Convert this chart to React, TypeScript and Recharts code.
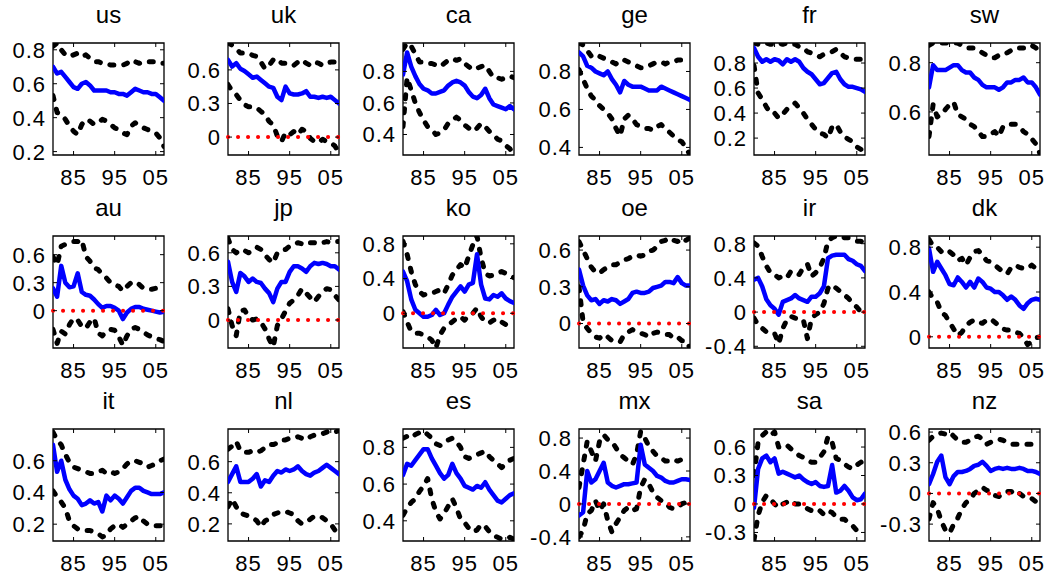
import React from 'react';
import { LineChart, Line, XAxis, YAxis, ReferenceLine, ReferenceArea } from 'recharts';

const YEARS = [1980, 1981, 1982, 1983, 1984, 1985, 1986, 1987, 1988, 1989, 1990, 1991, 1992, 1993, 1994, 1995, 1996, 1997, 1998, 1999, 2000, 2001, 2002, 2003, 2004, 2005, 2006, 2007];
const X_TICKS = [1985, 1995, 2005];

// row 1
const usMid = [0.70, 0.66, 0.67, 0.64, 0.61, 0.58, 0.57, 0.60, 0.61, 0.59, 0.56, 0.56, 0.56, 0.56, 0.55, 0.55, 0.54, 0.54, 0.53, 0.55, 0.57, 0.56, 0.55, 0.55, 0.54, 0.54, 0.52, 0.50];
const usHi = [0.82, 0.84, 0.80, 0.77, 0.76, 0.77, 0.78, 0.76, 0.77, 0.75, 0.73, 0.73, 0.72, 0.72, 0.71, 0.71, 0.71, 0.71, 0.72, 0.74, 0.73, 0.72, 0.73, 0.73, 0.73, 0.73, 0.72, 0.72];
const usLo = [0.53, 0.43, 0.42, 0.39, 0.35, 0.32, 0.30, 0.36, 0.39, 0.38, 0.36, 0.37, 0.39, 0.38, 0.36, 0.34, 0.33, 0.31, 0.30, 0.35, 0.37, 0.35, 0.34, 0.33, 0.32, 0.31, 0.28, 0.23];

const ukMid = [0.69, 0.63, 0.66, 0.61, 0.59, 0.56, 0.53, 0.54, 0.51, 0.48, 0.45, 0.44, 0.36, 0.33, 0.45, 0.39, 0.38, 0.38, 0.39, 0.41, 0.36, 0.36, 0.35, 0.36, 0.35, 0.36, 0.33, 0.30];
const ukHi = [0.84, 0.82, 0.79, 0.75, 0.75, 0.75, 0.73, 0.72, 0.67, 0.61, 0.64, 0.69, 0.70, 0.66, 0.66, 0.64, 0.64, 0.67, 0.69, 0.66, 0.64, 0.67, 0.66, 0.64, 0.66, 0.67, 0.67, 0.69];
const ukLo = [0.47, 0.41, 0.38, 0.33, 0.29, 0.27, 0.27, 0.26, 0.23, 0.20, 0.14, 0.11, 0.01, -0.04, 0.04, 0.02, 0.05, 0.02, 0.07, 0.05, -0.01, -0.04, -0.05, -0.02, -0.04, -0.05, -0.08, -0.14];

const caMid = [0.78, 0.92, 0.83, 0.77, 0.72, 0.69, 0.68, 0.66, 0.66, 0.67, 0.68, 0.71, 0.73, 0.74, 0.73, 0.71, 0.67, 0.64, 0.63, 0.65, 0.69, 0.63, 0.59, 0.58, 0.57, 0.56, 0.58, 0.56];
const caHi = [0.94, 0.98, 0.96, 0.91, 0.86, 0.86, 0.85, 0.85, 0.84, 0.83, 0.85, 0.87, 0.88, 0.87, 0.88, 0.85, 0.83, 0.81, 0.82, 0.83, 0.84, 0.80, 0.76, 0.76, 0.75, 0.76, 0.77, 0.76];
const caLo = [0.45, 0.76, 0.68, 0.60, 0.54, 0.49, 0.45, 0.43, 0.40, 0.41, 0.43, 0.47, 0.49, 0.51, 0.49, 0.46, 0.44, 0.42, 0.44, 0.47, 0.45, 0.42, 0.40, 0.37, 0.36, 0.33, 0.31, 0.27];

const geMid = [0.90, 0.88, 0.83, 0.82, 0.80, 0.79, 0.78, 0.80, 0.76, 0.73, 0.69, 0.75, 0.73, 0.72, 0.72, 0.72, 0.71, 0.70, 0.70, 0.70, 0.72, 0.71, 0.70, 0.69, 0.68, 0.67, 0.66, 0.65];
const geHi = [0.95, 0.94, 0.91, 0.88, 0.87, 0.88, 0.87, 0.86, 0.85, 0.84, 0.86, 0.86, 0.85, 0.84, 0.83, 0.82, 0.82, 0.83, 0.84, 0.85, 0.85, 0.84, 0.85, 0.85, 0.86, 0.86, 0.85, 0.85];
const geLo = [0.81, 0.76, 0.71, 0.67, 0.65, 0.62, 0.60, 0.58, 0.55, 0.50, 0.46, 0.55, 0.57, 0.55, 0.52, 0.51, 0.50, 0.50, 0.49, 0.51, 0.52, 0.50, 0.48, 0.46, 0.44, 0.43, 0.40, 0.36];

const frMid = [0.92, 0.85, 0.81, 0.83, 0.81, 0.83, 0.82, 0.79, 0.83, 0.81, 0.83, 0.81, 0.76, 0.73, 0.71, 0.67, 0.63, 0.64, 0.68, 0.72, 0.73, 0.67, 0.63, 0.61, 0.61, 0.60, 0.59, 0.57];
const frHi = [0.96, 0.95, 0.95, 0.96, 0.95, 0.95, 0.96, 0.95, 0.96, 0.95, 0.95, 0.93, 0.92, 0.89, 0.88, 0.87, 0.85, 0.87, 0.88, 0.89, 0.91, 0.88, 0.85, 0.84, 0.83, 0.83, 0.83, 0.83];
const frLo = [0.78, 0.56, 0.51, 0.45, 0.40, 0.40, 0.36, 0.39, 0.43, 0.45, 0.48, 0.44, 0.40, 0.35, 0.31, 0.27, 0.24, 0.23, 0.20, 0.29, 0.31, 0.25, 0.21, 0.19, 0.17, 0.13, 0.11, 0.07];

const swMid = [0.70, 0.79, 0.77, 0.77, 0.77, 0.78, 0.79, 0.79, 0.77, 0.76, 0.76, 0.74, 0.73, 0.71, 0.70, 0.70, 0.70, 0.69, 0.70, 0.72, 0.72, 0.73, 0.73, 0.74, 0.72, 0.72, 0.70, 0.67];
const swHi = [0.87, 0.88, 0.88, 0.88, 0.88, 0.88, 0.88, 0.88, 0.87, 0.86, 0.86, 0.86, 0.85, 0.84, 0.83, 0.82, 0.82, 0.83, 0.83, 0.84, 0.85, 0.85, 0.86, 0.86, 0.86, 0.87, 0.86, 0.84];
const swLo = [0.50, 0.63, 0.58, 0.59, 0.61, 0.63, 0.64, 0.59, 0.58, 0.57, 0.55, 0.54, 0.52, 0.50, 0.50, 0.51, 0.52, 0.50, 0.54, 0.55, 0.55, 0.55, 0.54, 0.52, 0.51, 0.49, 0.47, 0.43];

// row 2
const auMid = [0.24, 0.15, 0.48, 0.30, 0.25, 0.26, 0.40, 0.20, 0.17, 0.16, 0.12, 0.07, 0.03, 0.05, 0.05, 0.03, 0.00, -0.09, -0.02, 0.02, 0.04, 0.04, 0.02, 0.01, 0.00, -0.01, -0.02, -0.01];
const auHi = [0.58, 0.49, 0.69, 0.71, 0.72, 0.74, 0.74, 0.76, 0.58, 0.53, 0.46, 0.44, 0.39, 0.35, 0.30, 0.28, 0.26, 0.21, 0.26, 0.30, 0.31, 0.28, 0.24, 0.23, 0.23, 0.24, 0.24, 0.23];
const auLo = [-0.20, -0.35, -0.22, -0.25, -0.15, -0.08, -0.10, -0.17, -0.19, -0.12, -0.08, -0.24, -0.27, -0.22, -0.20, -0.21, -0.28, -0.37, -0.27, -0.20, -0.18, -0.20, -0.23, -0.26, -0.28, -0.30, -0.31, -0.33];

const jpMid = [0.52, 0.34, 0.25, 0.42, 0.39, 0.34, 0.37, 0.34, 0.33, 0.28, 0.24, 0.16, 0.28, 0.34, 0.34, 0.43, 0.48, 0.48, 0.46, 0.43, 0.48, 0.51, 0.50, 0.51, 0.50, 0.48, 0.48, 0.45];
const jpHi = [0.73, 0.63, 0.60, 0.63, 0.62, 0.60, 0.62, 0.65, 0.63, 0.58, 0.54, 0.51, 0.60, 0.62, 0.63, 0.66, 0.67, 0.69, 0.68, 0.67, 0.69, 0.69, 0.68, 0.69, 0.70, 0.69, 0.70, 0.70];
const jpLo = [0.10, -0.05, -0.14, 0.08, 0.09, 0.03, 0.00, 0.01, -0.02, -0.08, -0.17, -0.24, -0.05, 0.01, 0.08, 0.15, 0.18, 0.22, 0.28, 0.24, 0.20, 0.16, 0.21, 0.25, 0.28, 0.27, 0.22, 0.18];

const koMid = [0.48, 0.37, 0.16, 0.04, 0.00, -0.04, -0.04, -0.02, 0.04, -0.02, 0.00, 0.10, 0.19, 0.25, 0.31, 0.25, 0.33, 0.35, 0.68, 0.33, 0.17, 0.16, 0.21, 0.19, 0.23, 0.17, 0.14, 0.12];
const koHi = [0.83, 0.68, 0.48, 0.33, 0.25, 0.21, 0.23, 0.23, 0.25, 0.27, 0.23, 0.33, 0.44, 0.50, 0.56, 0.52, 0.66, 0.79, 0.89, 0.64, 0.46, 0.43, 0.44, 0.46, 0.48, 0.46, 0.43, 0.41];
const koLo = [0.02, -0.10, -0.21, -0.23, -0.23, -0.25, -0.27, -0.31, -0.40, -0.25, -0.17, -0.13, -0.10, -0.06, -0.04, -0.08, -0.02, 0.00, 0.06, -0.04, -0.10, -0.11, -0.08, -0.06, -0.10, -0.13, -0.13, -0.15];

const oeMid = [0.44, 0.31, 0.23, 0.19, 0.20, 0.16, 0.19, 0.18, 0.20, 0.19, 0.16, 0.18, 0.20, 0.25, 0.26, 0.25, 0.25, 0.26, 0.29, 0.30, 0.31, 0.34, 0.34, 0.33, 0.38, 0.33, 0.31, 0.31];
const oeHi = [0.67, 0.60, 0.53, 0.46, 0.42, 0.41, 0.44, 0.46, 0.48, 0.48, 0.50, 0.52, 0.53, 0.55, 0.56, 0.55, 0.56, 0.59, 0.60, 0.63, 0.67, 0.68, 0.70, 0.68, 0.67, 0.70, 0.68, 0.70];
const oeLo = [0.30, 0.01, -0.04, -0.08, -0.11, -0.12, -0.09, -0.11, -0.14, -0.15, -0.15, -0.09, -0.07, -0.05, -0.07, -0.08, -0.09, -0.11, -0.08, -0.07, -0.08, -0.09, -0.09, -0.12, -0.11, -0.14, -0.14, -0.20];

const irMid = [0.38, 0.40, 0.30, 0.15, 0.08, 0.04, -0.03, 0.12, 0.14, 0.16, 0.20, 0.16, 0.14, 0.12, 0.18, 0.18, 0.22, 0.30, 0.63, 0.66, 0.67, 0.67, 0.67, 0.62, 0.60, 0.56, 0.54, 0.48];
const irHi = [0.81, 0.77, 0.65, 0.54, 0.46, 0.44, 0.40, 0.42, 0.40, 0.48, 0.46, 0.44, 0.52, 0.56, 0.42, 0.46, 0.52, 0.63, 0.83, 0.87, 0.89, 0.89, 0.87, 0.87, 0.85, 0.83, 0.83, 0.79];
const irLo = [-0.07, -0.15, -0.19, -0.23, -0.25, -0.25, -0.37, -0.19, -0.09, -0.05, -0.07, -0.09, -0.09, -0.31, -0.07, -0.03, 0.00, 0.10, 0.28, 0.32, 0.28, 0.24, 0.20, 0.16, 0.10, 0.06, 0.00, -0.04];

const dkMid = [0.79, 0.58, 0.67, 0.61, 0.55, 0.47, 0.46, 0.53, 0.49, 0.44, 0.49, 0.44, 0.52, 0.49, 0.44, 0.43, 0.40, 0.40, 0.37, 0.33, 0.36, 0.33, 0.28, 0.25, 0.30, 0.33, 0.34, 0.33];
const dkHi = [0.87, 0.81, 0.80, 0.76, 0.74, 0.76, 0.73, 0.68, 0.70, 0.64, 0.71, 0.76, 0.77, 0.73, 0.68, 0.67, 0.64, 0.61, 0.58, 0.56, 0.62, 0.64, 0.62, 0.61, 0.61, 0.64, 0.61, 0.60];
const dkLo = [0.40, 0.34, 0.31, 0.22, 0.19, 0.13, 0.07, 0.01, 0.04, 0.10, 0.13, 0.15, 0.13, 0.12, 0.15, 0.16, 0.13, 0.10, 0.07, 0.06, 0.06, 0.04, 0.03, -0.01, -0.07, -0.04, -0.01, 0.00];

// row 3
const itMid = [0.70, 0.53, 0.60, 0.48, 0.42, 0.38, 0.36, 0.32, 0.33, 0.35, 0.33, 0.34, 0.28, 0.38, 0.35, 0.38, 0.36, 0.33, 0.37, 0.41, 0.43, 0.43, 0.41, 0.40, 0.39, 0.39, 0.39, 0.40];
const itHi = [0.78, 0.73, 0.70, 0.64, 0.59, 0.56, 0.55, 0.54, 0.53, 0.52, 0.52, 0.53, 0.54, 0.52, 0.53, 0.52, 0.53, 0.55, 0.58, 0.60, 0.60, 0.59, 0.58, 0.56, 0.57, 0.58, 0.60, 0.61];
const itLo = [0.41, 0.37, 0.34, 0.30, 0.22, 0.19, 0.17, 0.16, 0.16, 0.16, 0.15, 0.14, 0.12, 0.13, 0.17, 0.19, 0.20, 0.18, 0.20, 0.22, 0.24, 0.25, 0.22, 0.20, 0.19, 0.19, 0.19, 0.19];

const nlMid = [0.47, 0.52, 0.57, 0.47, 0.47, 0.47, 0.49, 0.52, 0.44, 0.48, 0.47, 0.51, 0.54, 0.53, 0.55, 0.54, 0.55, 0.57, 0.54, 0.52, 0.51, 0.53, 0.54, 0.56, 0.58, 0.56, 0.54, 0.52];
const nlHi = [0.68, 0.70, 0.73, 0.67, 0.66, 0.66, 0.67, 0.66, 0.67, 0.69, 0.71, 0.71, 0.72, 0.74, 0.74, 0.75, 0.75, 0.76, 0.75, 0.74, 0.76, 0.77, 0.77, 0.78, 0.79, 0.80, 0.79, 0.80];
const nlLo = [0.31, 0.36, 0.31, 0.27, 0.26, 0.25, 0.24, 0.22, 0.18, 0.22, 0.23, 0.26, 0.27, 0.28, 0.28, 0.27, 0.26, 0.22, 0.20, 0.21, 0.23, 0.25, 0.25, 0.24, 0.22, 0.20, 0.16, 0.11];

const esMid = [0.65, 0.71, 0.70, 0.73, 0.76, 0.79, 0.79, 0.74, 0.70, 0.66, 0.63, 0.65, 0.71, 0.66, 0.63, 0.59, 0.58, 0.57, 0.59, 0.58, 0.61, 0.57, 0.54, 0.51, 0.50, 0.52, 0.54, 0.55];
const esHi = [0.85, 0.86, 0.85, 0.87, 0.88, 0.89, 0.87, 0.85, 0.82, 0.81, 0.82, 0.84, 0.85, 0.83, 0.80, 0.75, 0.74, 0.75, 0.76, 0.77, 0.78, 0.75, 0.73, 0.71, 0.69, 0.71, 0.73, 0.74];
const esLo = [0.43, 0.47, 0.50, 0.52, 0.56, 0.59, 0.63, 0.52, 0.45, 0.41, 0.44, 0.48, 0.52, 0.47, 0.41, 0.39, 0.36, 0.34, 0.35, 0.38, 0.37, 0.34, 0.32, 0.31, 0.30, 0.30, 0.31, 0.30];

const mxMid = [-0.14, -0.10, 0.40, 0.26, 0.30, 0.40, 0.50, 0.26, 0.22, 0.20, 0.22, 0.24, 0.24, 0.25, 0.26, 0.72, 0.48, 0.44, 0.40, 0.34, 0.32, 0.28, 0.26, 0.26, 0.28, 0.30, 0.30, 0.29];
const mxHi = [0.20, 0.48, 0.76, 0.64, 0.52, 0.76, 0.84, 0.78, 0.76, 0.68, 0.60, 0.56, 0.52, 0.48, 0.60, 0.88, 0.80, 0.70, 0.64, 0.58, 0.56, 0.52, 0.52, 0.54, 0.52, 0.54, 0.54, 0.52];
const mxLo = [-0.40, -0.32, -0.12, -0.08, 0.04, -0.08, 0.00, -0.20, -0.34, -0.24, -0.16, -0.08, -0.04, -0.08, -0.06, 0.20, 0.30, 0.24, 0.14, 0.08, 0.04, 0.02, -0.04, -0.06, -0.04, 0.00, 0.02, 0.02];

const saMid = [-0.04, 0.37, 0.48, 0.51, 0.44, 0.48, 0.32, 0.34, 0.32, 0.30, 0.28, 0.30, 0.26, 0.23, 0.21, 0.23, 0.19, 0.18, 0.19, 0.41, 0.12, 0.14, 0.19, 0.14, 0.07, 0.04, 0.05, 0.11];
const saHi = [0.30, 0.65, 0.72, 0.76, 0.72, 0.76, 0.60, 0.60, 0.62, 0.58, 0.55, 0.51, 0.49, 0.46, 0.44, 0.44, 0.49, 0.55, 0.71, 0.65, 0.48, 0.46, 0.42, 0.39, 0.37, 0.41, 0.44, 0.46];
const saLo = [-0.38, -0.12, 0.02, 0.09, 0.05, 0.00, -0.04, 0.00, 0.02, 0.04, 0.00, 0.00, -0.02, -0.05, -0.07, -0.09, -0.07, -0.11, -0.07, -0.09, -0.14, -0.16, -0.16, -0.20, -0.23, -0.28, -0.27, -0.26];

const nzMid = [0.09, 0.19, 0.31, 0.37, 0.16, 0.09, 0.17, 0.21, 0.21, 0.22, 0.24, 0.27, 0.28, 0.31, 0.27, 0.22, 0.24, 0.25, 0.24, 0.25, 0.24, 0.24, 0.25, 0.24, 0.22, 0.22, 0.21, 0.19];
const nzHi = [0.52, 0.56, 0.58, 0.59, 0.58, 0.60, 0.56, 0.52, 0.50, 0.50, 0.52, 0.55, 0.56, 0.53, 0.48, 0.50, 0.52, 0.53, 0.52, 0.50, 0.48, 0.48, 0.48, 0.48, 0.48, 0.48, 0.48, 0.48];
const nzLo = [-0.25, -0.09, -0.15, -0.27, -0.36, -0.39, -0.30, -0.24, -0.15, -0.09, -0.06, 0.00, 0.03, 0.06, 0.03, 0.02, -0.02, -0.03, 0.00, 0.02, 0.02, -0.02, 0.00, -0.03, -0.05, -0.05, -0.08, -0.14];

const PANELS = [
  { name: 'us', mid: usMid, lo: usLo, hi: usHi, domain: [0.18, 0.84], ticks: [0.2, 0.4, 0.6, 0.8], zero: false },
  { name: 'uk', mid: ukMid, lo: ukLo, hi: ukHi, domain: [-0.16, 0.84], ticks: [0, 0.3, 0.6], zero: true },
  { name: 'ca', mid: caMid, lo: caLo, hi: caHi, domain: [0.27, 0.98], ticks: [0.4, 0.6, 0.8], zero: false },
  { name: 'ge', mid: geMid, lo: geLo, hi: geHi, domain: [0.36, 0.95], ticks: [0.4, 0.6, 0.8], zero: false },
  { name: 'fr', mid: frMid, lo: frLo, hi: frHi, domain: [0.065, 0.96], ticks: [0.2, 0.4, 0.6, 0.8], zero: false },
  { name: 'sw', mid: swMid, lo: swLo, hi: swHi, domain: [0.425, 0.88], ticks: [0.6, 0.8], zero: false },
  { name: 'au', mid: auMid, lo: auLo, hi: auHi, domain: [-0.4, 0.8], ticks: [0, 0.3, 0.6], zero: true },
  { name: 'jp', mid: jpMid, lo: jpLo, hi: jpHi, domain: [-0.25, 0.75], ticks: [0, 0.3, 0.6], zero: true },
  { name: 'ko', mid: koMid, lo: koLo, hi: koHi, domain: [-0.4, 0.89], ticks: [0, 0.4, 0.8], zero: true },
  { name: 'oe', mid: oeMid, lo: oeLo, hi: oeHi, domain: [-0.2, 0.715], ticks: [0, 0.3, 0.6], zero: true },
  { name: 'ir', mid: irMid, lo: irLo, hi: irHi, domain: [-0.42, 0.89], ticks: [-0.4, 0, 0.4, 0.8], zero: true },
  { name: 'dk', mid: dkMid, lo: dkLo, hi: dkHi, domain: [-0.1, 0.9], ticks: [0, 0.4, 0.8], zero: true },
  { name: 'it', mid: itMid, lo: itLo, hi: itHi, domain: [0.094, 0.8], ticks: [0.2, 0.4, 0.6], zero: false },
  { name: 'nl', mid: nlMid, lo: nlLo, hi: nlHi, domain: [0.09, 0.81], ticks: [0.2, 0.4, 0.6], zero: false },
  { name: 'es', mid: esMid, lo: esLo, hi: esHi, domain: [0.29, 0.9], ticks: [0.4, 0.6, 0.8], zero: false },
  { name: 'mx', mid: mxMid, lo: mxLo, hi: mxHi, domain: [-0.45, 0.91], ticks: [-0.4, 0, 0.4, 0.8], zero: true },
  { name: 'sa', mid: saMid, lo: saLo, hi: saHi, domain: [-0.39, 0.79], ticks: [-0.3, 0, 0.3, 0.6], zero: true },
  { name: 'nz', mid: nzMid, lo: nzLo, hi: nzHi, domain: [-0.465, 0.63], ticks: [-0.3, 0, 0.3, 0.6], zero: true },
];

const FONT = '"Liberation Sans", Arial, Helvetica, sans-serif';
const COL_LEFT = [53, 228, 403, 579, 754, 929];
const ROW_TOP = [43, 236, 429];
const PLOT_W = 111;
const PLOT_H = 112;
const AXIS_W = 64;
const TOP = 12;
const RIGHT = 8;
const XAXIS_H = 36;

function Panel({ panel, index }: { panel: any; index: number }) {
  const col = index % 6;
  const row = Math.floor(index / 6);
  const data = YEARS.map((year, i) => ({ year, mid: panel.mid[i], lo: panel.lo[i], hi: panel.hi[i] }));
  const pl = AXIS_W;
  const pr = AXIS_W + PLOT_W;
  const pt = TOP;
  const pb = TOP + PLOT_H;

  // MATLAB-style: labels outside, tick marks pointing inward on both sides
  const yTick = (p: any) => (
    <g>
      <text x={pl - 7} y={p.y} dy="0.36em" textAnchor="end" fontSize={22} letterSpacing={1} fontFamily={FONT} fill="#000">
        {String(p.payload.value)}
      </text>
      <line x1={pl} x2={pl + 4} y1={p.y} y2={p.y} stroke="#000" strokeWidth={1} />
      <line x1={pr - 4} x2={pr} y1={p.y} y2={p.y} stroke="#000" strokeWidth={1} />
    </g>
  );
  const xTick = (p: any) => (
    <g>
      <text x={p.x} y={pb + 30} textAnchor="middle" fontSize={22} letterSpacing={1} fontFamily={FONT} fill="#000">
        {String(p.payload.value % 100).padStart(2, '0')}
      </text>
      <line x1={p.x} x2={p.x} y1={pb} y2={pb - 4} stroke="#000" strokeWidth={1} />
      <line x1={p.x} x2={p.x} y1={pt} y2={pt + 4} stroke="#000" strokeWidth={1} />
    </g>
  );

  return (
    <>
      <div
        style={{
          position: 'absolute',
          left: COL_LEFT[col],
          top: ROW_TOP[row] - 40,
          width: PLOT_W,
          textAlign: 'center',
          fontFamily: FONT,
          fontSize: 24,
          lineHeight: '24px',
          color: '#000',
        }}
      >
        {panel.name}
      </div>
      <div style={{ position: 'absolute', left: COL_LEFT[col] - AXIS_W, top: ROW_TOP[row] - TOP }}>
        <LineChart
          width={AXIS_W + PLOT_W + RIGHT}
          height={TOP + PLOT_H + XAXIS_H}
          data={data}
          margin={{ top: TOP, right: RIGHT, bottom: 0, left: 0 }}
        >
          <XAxis
            dataKey="year"
            type="number"
            domain={[1980, 2007]}
            ticks={X_TICKS}
            interval={0}
            allowDataOverflow
            axisLine={false}
            tickLine={false}
            height={XAXIS_H}
            tick={xTick}
          />
          <YAxis
            type="number"
            domain={panel.domain}
            ticks={panel.ticks}
            interval={0}
            allowDataOverflow
            axisLine={false}
            tickLine={false}
            width={AXIS_W}
            tick={yTick}
          />
          <Line dataKey="hi" type="linear" stroke="#000" strokeWidth={5} strokeDasharray="4 10" strokeLinecap="round" strokeLinejoin="round" dot={false} isAnimationActive={false} />
          <Line dataKey="lo" type="linear" stroke="#000" strokeWidth={5} strokeDasharray="4 10" strokeLinecap="round" strokeLinejoin="round" dot={false} isAnimationActive={false} />
          <Line dataKey="mid" type="linear" stroke="#0000ff" strokeWidth={4.5} strokeLinecap="round" strokeLinejoin="round" dot={false} isAnimationActive={false} />
          {panel.zero && (
            <ReferenceLine y={0} stroke="#ff0000" strokeWidth={4} strokeDasharray="0.1 9.9" strokeLinecap="round" />
          )}
          <ReferenceArea
            x1={1980}
            x2={2007}
            y1={panel.domain[0]}
            y2={panel.domain[1]}
            fill="none"
            fillOpacity={0}
            stroke="#000"
            strokeWidth={1.3}
            ifOverflow="visible"
          />
        </LineChart>
      </div>
    </>
  );
}

export default function App() {
  return (
    <div style={{ position: 'absolute', left: 0, top: 0, width: 1050, height: 581, background: '#fff', overflow: 'hidden' }}>
      {PANELS.map((p, i) => (
        <Panel key={p.name} panel={p} index={i} />
      ))}
    </div>
  );
}
